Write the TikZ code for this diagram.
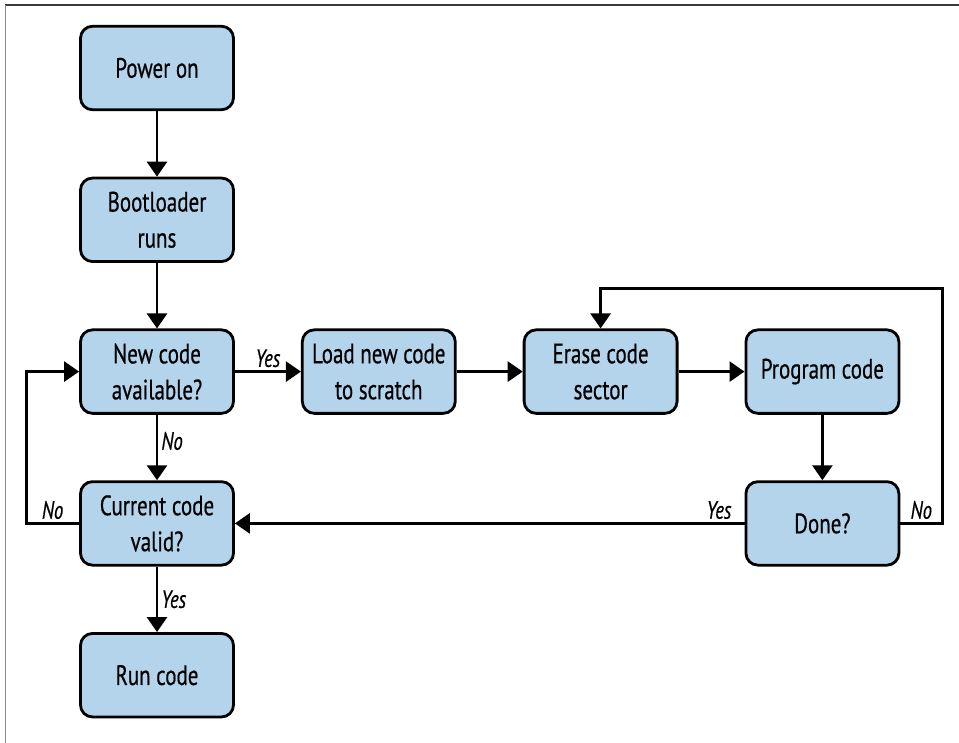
\documentclass[tikz,border=0pt]{standalone}
\usepackage{fontspec}
\setmainfont[FakeStretch=0.75,FakeBold=0.5]{PT Sans}
\usepackage{tikz}
\usetikzlibrary{arrows.meta,positioning}
\definecolor{fcBlue}{HTML}{B4D4EC}
\definecolor{fcFrame}{HTML}{3A3A3A}
\definecolor{fcEdge}{HTML}{8A8A8A}
\tikzset{
  flow box/.style={draw=black,line width=2.8pt,rounded corners=12pt,fill=fcBlue,
    minimum width=153pt,minimum height=83.5pt,align=center,inner sep=4pt,
    font=\fontsize{28}{36}\selectfont},
  flow arrow/.style={-{Triangle[length=15pt,width=20pt]},line width=2.8pt,draw=black},
  flow label/.style={font=\fontsize{25}{28}\selectfont\itshape,inner sep=3pt}
}
\begin{document}
\begin{tikzpicture}[x=1pt,y=1pt,node distance=65.5pt and 66pt]
\useasboundingbox (0,0) rectangle (959,-743);
\draw[fcFrame,line width=2pt] (5,-5) -- (959,-5);
\draw[fcEdge,line width=1pt] (5,-5) -- (5,-743);
\node[flow box] (power) at (157,-68) {Power on};
\node[flow box,below=of power] (boot) {Bootloader\\runs};
\node[flow box,below=of boot] (newcode) {New code\\available?};
\node[flow box,below=of newcode] (current) {Current code\\valid?};
\node[flow box,below=of current] (run) {Run code};
\node[flow box,right=of newcode] (load) {Load new code\\to scratch};
\node[flow box,right=of load] (erase) {Erase code\\sector};
\node[flow box,right=of erase] (program) {Program code};
\node[flow box,below=of program] (done) {Done?};
\draw[flow arrow] (power) -- (boot);
\draw[flow arrow] (boot) -- (newcode);
\draw[flow arrow] (newcode) -- node[flow label,above]{Yes} (load);
\draw[flow arrow] (load) -- (erase);
\draw[flow arrow] (erase) -- (program);
\draw[flow arrow] (program) -- (done);
\draw[flow arrow] (newcode) -- node[flow label,pos=.4,right]{No} (current);
\draw[flow arrow] (current) -- node[flow label,right]{Yes} (run);
\draw[flow arrow] (done) -- node[flow label,pos=.05,above]{Yes} (current);
\draw[flow arrow] (current.west) -- node[flow label,above]{No} ++(-53,0) |- (newcode.west);
\draw[flow arrow] (done.east) -- node[flow label,above]{No} ++(42,0) |- ([yshift=40pt]erase.north) -- (erase.north);
\end{tikzpicture}
\end{document}
